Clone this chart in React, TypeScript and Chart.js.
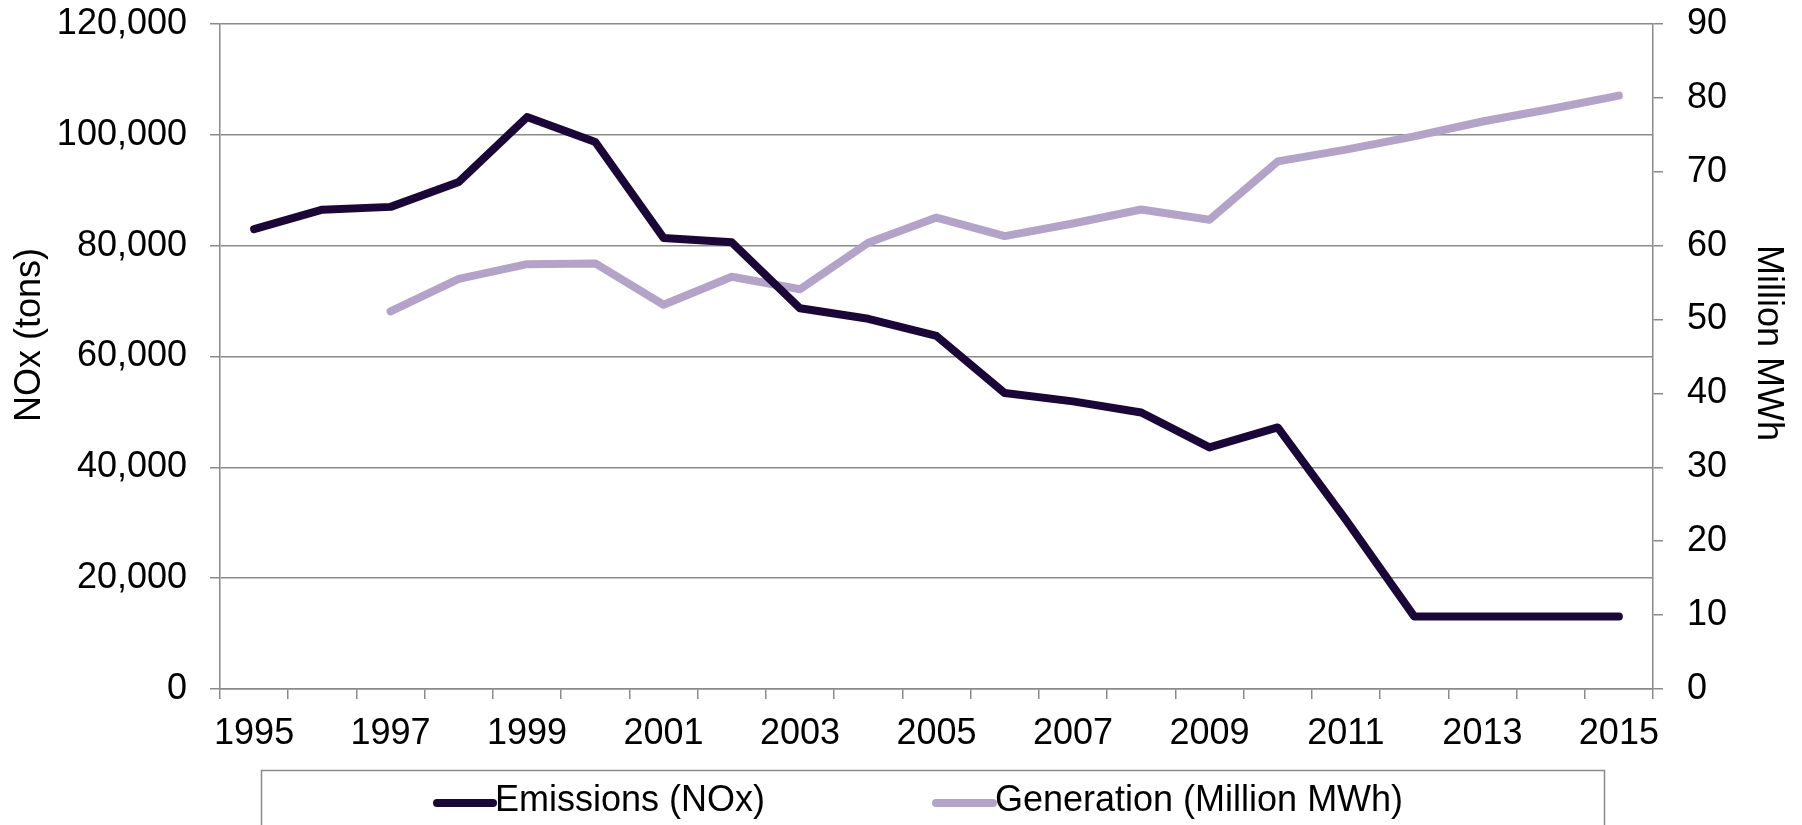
import { useEffect, useRef } from 'react';
import { Chart, registerables } from 'chart.js';

Chart.register(...registerables);

const years = [
  '1995', '1996', '1997', '1998', '1999', '2000', '2001', '2002', '2003', '2004', '2005',
  '2006', '2007', '2008', '2009', '2010', '2011', '2012', '2013', '2014', '2015',
];

const emissionsNOx = [
  83000, 86500, 87000, 91500, 103200, 98700, 81400, 80600, 68700, 66800, 63700,
  53400, 51900, 49900, 43600, 47200, 30500, 13100, 13100, 13100, 13100,
];

const generationMWh = [
  null, null, 51.1, 55.5, 57.5, 57.6, 52.0, 55.8, 54.1, 60.4, 63.8,
  61.3, 63.0, 64.9, 63.5, 71.4, 73.0, 74.8, 76.8, 78.5, 80.3,
];

const leftAxis = { min: 0, max: 120000, step: 20000, title: 'NOx (tons)' };
const rightAxis = { min: 0, max: 90, step: 10, title: 'Million MWh' };

const seriesLabels = ['Emissions (NOx)', 'Generation (Million MWh)'];
const seriesColors = ['#1a0637', '#b3a3c9'];

const GRID = '#8a8a8a';
const FONT = '"Liberation Sans", Arial, sans-serif';
const FONT_SIZE = 36;

const decorPlugin = {
  id: 'decor',
  afterDraw(chart: any) {
    const ctx = chart.ctx as CanvasRenderingContext2D;
    ctx.save();
    ctx.font = `${FONT_SIZE}px ${FONT}`;
    ctx.fillStyle = '#000';

    // axis titles
    ctx.save();
    ctx.translate(30, 335);
    ctx.rotate(-Math.PI / 2);
    ctx.textAlign = 'center';
    ctx.textBaseline = 'middle';
    ctx.fillText(leftAxis.title, 0, 0);
    ctx.restore();

    ctx.save();
    ctx.translate(1768, 343);
    ctx.rotate(Math.PI / 2);
    ctx.textAlign = 'center';
    ctx.textBaseline = 'middle';
    ctx.fillText(rightAxis.title, 0, 0);
    ctx.restore();

    // legend frame
    ctx.strokeStyle = GRID;
    ctx.lineWidth = 1.5;
    ctx.strokeRect(261.5, 770.5, 1343, 100);

    // legend items
    const items = [
      { x0: 437, x1: 493, tx: 495 },
      { x0: 936, x1: 993, tx: 995 },
    ];
    items.forEach((it, i) => {
      ctx.strokeStyle = seriesColors[i];
      ctx.lineWidth = 8;
      ctx.lineCap = 'round';
      ctx.beginPath();
      ctx.moveTo(it.x0, 803);
      ctx.lineTo(it.x1, 803);
      ctx.stroke();
      ctx.fillStyle = '#000';
      ctx.textAlign = 'left';
      ctx.textBaseline = 'middle';
      ctx.fillText(seriesLabels[i], it.tx, 801);
    });
    ctx.restore();
  },
};

const noPad = (s: any) => {
  s.paddingTop = 0;
  s.paddingBottom = 0;
  s.paddingLeft = 0;
  s.paddingRight = 0;
};

export default function App() {
  const canvasRef = useRef<HTMLCanvasElement | null>(null);

  useEffect(() => {
    document.body.style.margin = '0';
    const canvas = canvasRef.current;
    if (!canvas) return;
    Chart.defaults.font.family = FONT;
    Chart.defaults.font.size = FONT_SIZE;
    Chart.defaults.color = '#000';

    const chart = new Chart(canvas, {
      type: 'line',
      data: {
        labels: years,
        datasets: [
          {
            label: seriesLabels[0],
            data: emissionsNOx,
            yAxisID: 'y',
            borderColor: seriesColors[0],
            backgroundColor: seriesColors[0],
            borderWidth: 8,
            pointRadius: 0,
            tension: 0,
            borderCapStyle: 'round',
            borderJoinStyle: 'round',
          },
          {
            label: seriesLabels[1],
            data: generationMWh,
            yAxisID: 'y1',
            borderColor: seriesColors[1],
            backgroundColor: seriesColors[1],
            borderWidth: 8,
            pointRadius: 0,
            tension: 0,
            borderCapStyle: 'round',
            borderJoinStyle: 'round',
          },
        ],
      },
      options: {
        responsive: false,
        animation: false,
        layout: { padding: { top: 24, left: 0, right: 0, bottom: 0 } },
        plugins: {
          legend: { display: false },
          tooltip: { enabled: false },
          title: { display: false },
        },
        scales: {
          x: {
            type: 'category',
            offset: true,
            grid: {
              offset: true,
              drawOnChartArea: false,
              drawTicks: true,
              tickLength: 10,
              color: GRID,
              lineWidth: 1.5,
            },
            border: { color: GRID, width: 1.5 },
            ticks: {
              autoSkip: false,
              maxRotation: 0,
              minRotation: 0,
              padding: 13,
              color: '#000',
              font: { size: FONT_SIZE, family: FONT },
              callback: (_v: any, i: number) => (i % 2 === 0 ? years[i] : ''),
            },
            afterFit: (s: any) => {
              s.height = 136;
              noPad(s);
            },
          },
          y: {
            position: 'left',
            min: leftAxis.min,
            max: leftAxis.max,
            grid: { color: GRID, lineWidth: 1.5, tickLength: 10 },
            border: { color: GRID, width: 1.5 },
            ticks: {
              stepSize: leftAxis.step,
              padding: 23,
              color: '#000',
              font: { size: FONT_SIZE, family: FONT },
              callback: (v: any) => Number(v).toLocaleString('en-US'),
            },
            afterFit: (s: any) => {
              s.width = 220;
              noPad(s);
            },
          },
          y1: {
            position: 'right',
            min: rightAxis.min,
            max: rightAxis.max,
            grid: { drawOnChartArea: false, color: GRID, lineWidth: 1.5, tickLength: 10 },
            border: { color: GRID, width: 1.5 },
            ticks: {
              stepSize: rightAxis.step,
              padding: 24,
              color: '#000',
              font: { size: FONT_SIZE, family: FONT },
            },
            afterFit: (s: any) => {
              s.width = 149;
              noPad(s);
            },
          },
        },
      },
      plugins: [decorPlugin],
    } as any);

    return () => chart.destroy();
  }, []);

  return (
    <div style={{ width: 1802, height: 825, background: '#fff' }}>
      <canvas ref={canvasRef} width={1802} height={825} style={{ display: 'block' }} />
    </div>
  );
}
